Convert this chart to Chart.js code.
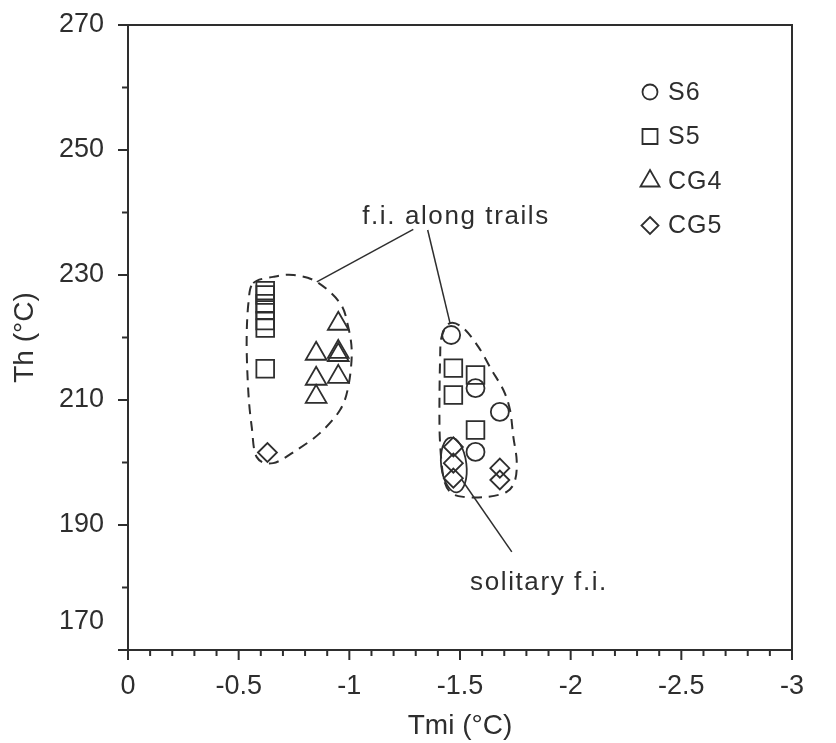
<!DOCTYPE html>
<html>
<head>
<meta charset="utf-8">
<script src="https://cdn.jsdelivr.net/npm/chart.js@4.4.1/dist/chart.umd.min.js"></script>
<style>
  html, body { margin: 0; padding: 0; background: #fff; }
  #grafico-wrap { width: 836px; height: 743px; }
</style>
</head>
<body>
<div id="grafico-wrap"><canvas id="grafico"></canvas></div>
<script>
// Dados: Tmi (°C) x Th (°C)
const s6Tmi = [-1.46, -1.57, -1.68, -1.57];
const s6Th = [220.4, 211.9, 208.1, 201.7];

const s5Tmi = [-0.62, -0.62, -0.62, -0.62, -0.62, -0.62, -0.62, -1.47, -1.47, -1.57, -1.57];
const s5Th = [227.5, 226.8, 225.4, 224.4, 222.7, 221.5, 215.0, 215.1, 210.8, 214.0, 205.2];

const cg4Tmi = [-0.85, -0.85, -0.85, -0.95, -0.95, -0.95, -0.95];
const cg4Th = [217.4, 213.4, 210.5, 222.2, 217.7, 217.2, 213.7];

const cg5Tmi = [-0.63, -1.47, -1.47, -1.47, -1.68, -1.68];
const cg5Th = [201.6, 202.5, 199.9, 197.5, 199.1, 197.2];

// Rótulos dos eixos
const ticksTh = [170, 190, 210, 230, 250, 270];
const ticksTmi = [0, -0.5, -1, -1.5, -2, -2.5, -3];

// Contornos tracejados (inclusões ao longo de trilhas)
const envEsqTmi = [-0.566, -0.656, -0.747, -0.853, -0.958, -0.995, -1.011, -0.995, -0.958, -0.867, -0.762, -0.656, -0.581, -0.559, -0.544, -0.536, -0.544];
const envEsqTh = [228.7, 229.7, 230.0, 228.9, 225.5, 221.7, 217.5, 212.1, 208.4, 204.7, 202.0, 199.9, 200.9, 205.7, 211.1, 219.1, 225.5];
const envDirTmi = [-1.455, -1.515, -1.583, -1.643, -1.696, -1.726, -1.741, -1.756, -1.749, -1.711, -1.621, -1.515, -1.455, -1.425, -1.410, -1.407, -1.410, -1.417];
const envDirTh = [222.3, 221.5, 218.5, 214.8, 211.6, 208.4, 204.1, 200.4, 197.2, 195.3, 194.5, 194.5, 195.3, 197.7, 203.1, 208.4, 216.4, 220.1];

// Elipse das inclusões solitárias: centro e semi-eixos
const elipseSolitaria = { tmi: -1.472, th: 199.6, dTmi: 0.057, dTh: 4.4 };

// Linhas de chamada [tmi1, th1, tmi2, th2]
const chamadas = [
    [-1.289, 237.3, -0.853, 228.9],
    [-1.354, 237.2, -1.455, 222.3],
    [-1.734, 185.7, -1.509, 197.2]
];
const textosChamada = [
    { texto: 'f.i. along trails', tmi: -1.482, th: 239.3 },
    { texto: 'solitary f.i.', tmi: -1.857, th: 180.7 }
];

const corTraco = '#2e2e2e';
const fonte = '"Liberation Sans", Arial, sans-serif';

function pontos(xs, ys) {
    return xs.map((x, i) => ({ x: x, y: ys[i] }));
}

// Desenha um marcador no estilo do Chart.js (para a legenda)
function desenharMarcador(ctx, estilo, x, y, r) {
    ctx.beginPath();
    if (estilo === 'circle') {
        ctx.arc(x, y, r, 0, Math.PI * 2);
    } else if (estilo === 'rect') {
        ctx.rect(x - r, y - r, 2 * r, 2 * r);
    } else if (estilo === 'triangle') {
        let ang = 0;
        ctx.moveTo(x + Math.sin(ang) * r, y - Math.cos(ang) * r);
        ang += Math.PI * 2 / 3;
        ctx.lineTo(x + Math.sin(ang) * r, y - Math.cos(ang) * r);
        ang += Math.PI * 2 / 3;
        ctx.lineTo(x + Math.sin(ang) * r, y - Math.cos(ang) * r);
        ctx.closePath();
    } else if (estilo === 'rectRot') {
        ctx.moveTo(x, y - r);
        ctx.lineTo(x + r, y);
        ctx.lineTo(x, y + r);
        ctx.lineTo(x - r, y);
        ctx.closePath();
    }
    ctx.stroke();
}

// Curva fechada suave passando pelos pontos
function caminhoFechado(ctx, pts) {
    const n = pts.length;
    ctx.beginPath();
    ctx.moveTo(pts[0].x, pts[0].y);
    for (let i = 0; i < n; i++) {
        const p0 = pts[(i - 1 + n) % n], p1 = pts[i], p2 = pts[(i + 1) % n], p3 = pts[(i + 2) % n];
        ctx.bezierCurveTo(
            p1.x + (p2.x - p0.x) / 6, p1.y + (p2.y - p0.y) / 6,
            p2.x - (p3.x - p1.x) / 6, p2.y - (p3.y - p1.y) / 6,
            p2.x, p2.y
        );
    }
    ctx.closePath();
}

const extras = {
    id: 'extras',
    beforeDatasetsDraw(chart) {
        const ctx = chart.ctx;
        const sx = chart.scales.x, sy = chart.scales.y;
        ctx.save();
        ctx.strokeStyle = corTraco;
        ctx.lineWidth = 2;

        // Contornos tracejados
        ctx.setLineDash([10, 7]);
        [[envEsqTmi, envEsqTh], [envDirTmi, envDirTh]].forEach(par => {
            const pts = par[0].map((v, i) => ({ x: sx.getPixelForValue(v), y: sy.getPixelForValue(par[1][i]) }));
            caminhoFechado(ctx, pts);
            ctx.stroke();
        });
        ctx.setLineDash([]);

        // Elipse das inclusões solitárias
        const cx = sx.getPixelForValue(elipseSolitaria.tmi);
        const cy = sy.getPixelForValue(elipseSolitaria.th);
        const rx = Math.abs(sx.getPixelForValue(elipseSolitaria.tmi - elipseSolitaria.dTmi) - cx);
        const ry = Math.abs(sy.getPixelForValue(elipseSolitaria.th + elipseSolitaria.dTh) - cy);
        ctx.lineWidth = 1.8;
        ctx.beginPath();
        ctx.ellipse(cx, cy, rx, ry, -0.12, 0, Math.PI * 2);
        ctx.stroke();

        // Linhas de chamada
        ctx.lineWidth = 1.5;
        chamadas.forEach(c => {
            ctx.beginPath();
            ctx.moveTo(sx.getPixelForValue(c[0]), sy.getPixelForValue(c[1]));
            ctx.lineTo(sx.getPixelForValue(c[2]), sy.getPixelForValue(c[3]));
            ctx.stroke();
        });

        // Textos das chamadas
        ctx.fillStyle = corTraco;
        ctx.font = '26px ' + fonte;
        ctx.letterSpacing = '1.6px';
        ctx.textAlign = 'center';
        ctx.textBaseline = 'middle';
        textosChamada.forEach(t => {
            ctx.fillText(t.texto, sx.getPixelForValue(t.tmi), sy.getPixelForValue(t.th));
        });
        ctx.restore();
    },
    afterDraw(chart) {
        const ctx = chart.ctx;
        const area = chart.chartArea;
        const sx = chart.scales.x, sy = chart.scales.y;
        ctx.save();
        ctx.strokeStyle = corTraco;
        ctx.lineWidth = 2;

        // Moldura
        ctx.strokeRect(area.left, area.top, area.right - area.left, area.bottom - area.top);

        // Marcas do eixo Y (maiores a cada 20, menores a cada 10)
        for (let v = 170; v <= 270; v += 10) {
            const y = sy.getPixelForValue(v);
            const tam = (v - 170) % 20 === 0 ? 10 : 6;
            ctx.beginPath();
            ctx.moveTo(area.left - tam, y);
            ctx.lineTo(area.left, y);
            ctx.stroke();
        }
        // Marcas do eixo X (maiores a cada 0,5, menores a cada 0,1)
        for (let k = 0; k <= 30; k++) {
            const x = sx.getPixelForValue(-k / 10);
            const tam = k % 5 === 0 ? 10 : 6;
            ctx.beginPath();
            ctx.moveTo(x, area.bottom);
            ctx.lineTo(x, area.bottom + tam);
            ctx.stroke();
        }

        // Rótulo 170 deslocado para cima, como no original
        ctx.fillStyle = corTraco;
        ctx.font = '27px ' + fonte;
        ctx.textAlign = 'right';
        ctx.textBaseline = 'middle';
        ctx.fillText('170', area.left - 24, sy.getPixelForValue(174.5));

        // Legenda
        const series = chart.data.datasets;
        ctx.lineWidth = 1.8;
        ctx.font = '25px ' + fonte;
        ctx.letterSpacing = '1px';
        ctx.textAlign = 'left';
        const raiosLegenda = { circle: 7.5, rect: 7.5, triangle: 11, rectRot: 8.5 };
        series.forEach((ds, i) => {
            const mx = area.right - 142;
            const my = area.top + 67 + i * 44.5;
            desenharMarcador(ctx, ds.pointStyle, mx, my, raiosLegenda[ds.pointStyle]);
            ctx.fillText(ds.label, mx + 18, my + 1);
        });
        ctx.restore();
    }
};

document.addEventListener('DOMContentLoaded', function() {
    const ctx = document.getElementById('grafico').getContext('2d');
    const base = { backgroundColor: 'rgba(0,0,0,0)', borderColor: corTraco, pointBorderWidth: 1.8 };

    new Chart(ctx, {
        type: 'scatter',
        data: {
            datasets: [
                Object.assign({ label: 'S6', data: pontos(s6Tmi, s6Th), pointStyle: 'circle', pointRadius: 9 }, base),
                Object.assign({ label: 'S5', data: pontos(s5Tmi, s5Th), pointStyle: 'rect', pointRadius: 12.5 }, base),
                Object.assign({ label: 'CG4', data: pontos(cg4Tmi, cg4Th), pointStyle: 'triangle', pointRadius: 12 }, base),
                Object.assign({ label: 'CG5', data: pontos(cg5Tmi, cg5Th), pointStyle: 'rectRot', pointRadius: 9.5 }, base)
            ]
        },
        options: {
            responsive: true,
            maintainAspectRatio: false,
            animation: false,
            events: [],
            layout: { padding: { top: 25, right: 44, left: 0, bottom: 0 } },
            plugins: {
                legend: { display: false },
                tooltip: { enabled: false }
            },
            scales: {
                x: {
                    type: 'linear',
                    min: -3,
                    max: 0,
                    reverse: true,
                    afterBuildTicks: s => { s.ticks = ticksTmi.map(v => ({ value: v })); },
                    afterFit: s => { s.height = 93; },
                    grid: { display: false },
                    border: { display: false },
                    ticks: {
                        color: corTraco,
                        padding: 12,
                        maxRotation: 0,
                        font: { family: fonte, size: 27 },
                        callback: v => String(v)
                    },
                    title: {
                        display: true,
                        text: 'Tmi (°C)',
                        color: corTraco,
                        font: { family: fonte, size: 28 },
                        padding: { top: 0, bottom: 0 }
                    }
                },
                y: {
                    type: 'linear',
                    min: 170,
                    max: 270,
                    afterBuildTicks: s => { s.ticks = ticksTh.map(v => ({ value: v })); },
                    afterFit: s => { s.width = 128; s.paddingTop = 0; s.paddingBottom = 0; },
                    grid: { display: false },
                    border: { display: false },
                    ticks: {
                        color: corTraco,
                        padding: 16,
                        font: { family: fonte, size: 27 },
                        callback: v => (v === 170 ? '' : String(v))
                    },
                    title: {
                        display: true,
                        text: 'Th (°C)',
                        color: corTraco,
                        font: { family: fonte, size: 28 },
                        padding: { top: 8, bottom: 0 }
                    }
                }
            }
        },
        plugins: [extras]
    });
});
</script>
</body>
</html>
